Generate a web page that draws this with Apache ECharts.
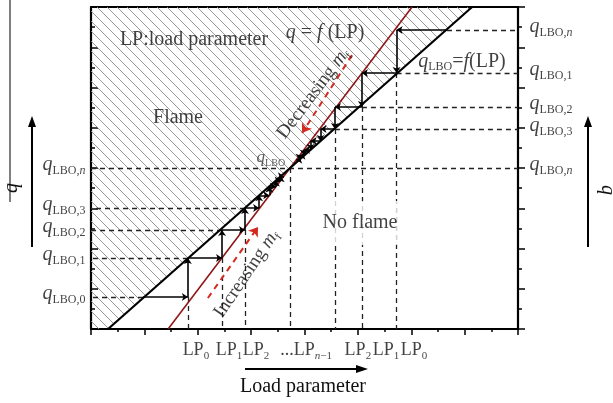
<!DOCTYPE html>
<html>
<head>
<meta charset="utf-8">
<script src="https://cdn.jsdelivr.net/npm/echarts@6/dist/echarts.min.js"></script>
<style>
  html, body { margin: 0; padding: 0; background: #fff; }
  #chart { width: 613px; height: 403px; }
</style>
</head>
<body>
<div id="chart"></div>
<script>
// ---- data (schematic units, both axes 0..16) ----
const xMax = 16, yMax = 16;

// q_LBO = f(LP) (black) and q = f(LP) (red)
const lboLine = [[0.64, 0], [14.28, 16]];
const flameLine = [[2.89, 0], [12.03, 16]];
const crossing = [7.46, 8.0];

// staircase for increasing m_f (below the crossing)
const upQ = [1.59, 3.53, 4.92, 6.01, 6.64, 7.08, 7.38, 7.59];
const upLP = [1.95, 3.63, 4.91, 5.77, 6.30, 6.68, 6.93, 7.11, 7.23];
// staircase for decreasing m_f (above the crossing)
const downQ = [14.86, 12.72, 11.03, 9.94, 9.34, 8.90, 8.61, 8.41];
const downLP = [13.34, 11.45, 10.15, 9.14, 8.60, 8.23, 7.98, 7.81, 7.69];
const guideSteps = 4; // first steps that get dashed guide lines

// red dashed direction arrows
const incArrow = [[4.38, 1.54], [6.26, 5.07]];
const decArrow = [[9.78, 13.61], [7.91, 9.74]];

// tick labels
const leftQNames = ['n', '3', '2', '1', '0'];
const leftQValues = [crossing[1], upQ[3], upQ[2], upQ[1], upQ[0]];
const rightQNames = ['n', '1', '2', '3', 'n'];
const rightQValues = [downQ[0], downQ[1], downQ[2], downQ[3], crossing[1]];
const lpNames = ['0', '1', '2', 'n\u22121', '2', '1', '0'];
const lpPositions = [3.93, 5.17, 6.18, 8.06, 10.0, 11.05, 12.1];

// ---- styles ----
const serif = '"Liberation Serif", "DejaVu Serif", serif';
const ink = '#111';
const rich = {
  q:   { fontFamily: serif, fontStyle: 'italic', fontSize: 20, color: ink },
  s:   { fontFamily: serif, fontSize: 12, color: ink, padding: [12, 0, 0, 0] },
  si:  { fontFamily: serif, fontStyle: 'italic', fontSize: 12, color: ink, padding: [12, 0, 0, 0] },
  t:   { fontFamily: serif, fontSize: 20, color: ink },
  ti:  { fontFamily: serif, fontStyle: 'italic', fontSize: 20, color: ink },
  t2:  { fontFamily: serif, fontSize: 19, color: ink },
  ti2: { fontFamily: serif, fontStyle: 'italic', fontSize: 19, color: ink },
  lp:  { fontFamily: serif, fontSize: 18, color: ink },
  ls:  { fontFamily: serif, fontSize: 11, color: ink, padding: [12, 0, 0, 0] },
  lsi: { fontFamily: serif, fontStyle: 'italic', fontSize: 11, color: ink, padding: [12, 0, 0, 0] },
  qs:  { fontFamily: serif, fontStyle: 'italic', fontSize: 17, color: '#333' },
  ss:  { fontFamily: serif, fontSize: 10, color: '#333', padding: [10, 0, 0, 0] }
};

function subText(name, roman, italic) {
  if (name.charAt(0) === 'n') {
    let rest = name.slice(1);
    return '{' + italic + '|n}' + (rest ? '{' + roman + '|' + rest + '}' : '');
  }
  return '{' + roman + '|' + name + '}';
}
function qLabel(name) {
  return '{q|q}{s|LBO,}' + subText(name, 's', 'si');
}
function lpLabel(name) {
  let pre = name.charAt(0) === 'n' ? '{lp|...}' : '';
  return pre + '{lp|LP}' + subText(name, 'ls', 'lsi');
}

// hatch pattern for the flame region
const hatch = document.createElement('canvas');
hatch.width = 10; hatch.height = 10;
const hc = hatch.getContext('2d');
hc.strokeStyle = '#8c8c8c';
hc.lineWidth = 0.9;
hc.beginPath();
hc.moveTo(-1, -1); hc.lineTo(11, 11);
hc.moveTo(-1, 9); hc.lineTo(1, 11);
hc.moveTo(9, -1); hc.lineTo(11, 1);
hc.stroke();

const flamePolygon = [[0, 0], [lboLine[0][0], 0], [lboLine[1][0], yMax], [0, yMax]];

// ---- build segments ----
let dashes = [];
let steps = [];
function addStairs(qs, lps, toRight) {
  for (let i = 0; i < qs.length; i++) {
    steps.push({ coords: [[lps[i], qs[i]], [lps[i + 1], qs[i]]] });
    if (i + 1 < qs.length) steps.push({ coords: [[lps[i + 1], qs[i]], [lps[i + 1], qs[i + 1]]] });
  }
  for (let i = 0; i < guideSteps; i++) {
    dashes.push({ coords: [[lps[i], qs[i]], [toRight ? xMax : 0, qs[i]]] });
  }
}
addStairs(upQ, upLP, false);
addStairs(downQ, downLP, true);
for (let i = 1; i < guideSteps; i++) {
  dashes.push({ coords: [[upLP[i], upQ[i - 1]], [upLP[i], 0]] });
  dashes.push({ coords: [[downLP[i], downQ[i]], [downLP[i], 0]] });
}
dashes.push({ coords: [[0, crossing[1]], [xMax, crossing[1]]] });
dashes.push({ coords: [crossing, [crossing[0], 0]] });

// ---- annotation layout ----
const notes = [
  { at: [3.86, 14.36], text: '{t|LP:load parameter}' },
  { at: [8.77, 14.72], text: '{ti|q}{t| = }{ti|f}{t| (LP)}' },
  { at: [3.26, 10.48], text: '{t|Flame}' },
  { at: [10.08, 5.27], text: '{t|No flame}', bg: true },
  { at: [13.9, 13.3], text: '{q|q}{s|LBO}{t|=}{ti|f}{t|(LP)}' },
  { at: [6.74, 8.5], text: '{qs|q}{ss|LBO}' },
  { at: [8.33, 11.7], text: '{t2|Decreasing }{ti2|m}{s|f}', rotate: 53 },
  { at: [5.83, 2.75], text: '{t2|Increasing }{ti2|m}{s|f}', rotate: 56 }
];

const labelData = [];
leftQValues.forEach(function (v, i) {
  labelData.push({ value: [0, v], label: { formatter: qLabel(leftQNames[i]), position: 'left', distance: 5, offset: [0, -3] } });
});
rightQValues.forEach(function (v, i) {
  labelData.push({ value: [xMax, v], label: { formatter: qLabel(rightQNames[i]), position: 'right', distance: 11, offset: [0, -3] } });
});
lpPositions.forEach(function (v, i) {
  labelData.push({ value: [v, 0], label: { formatter: lpLabel(lpNames[i]), position: 'bottom', distance: 9 } });
});
notes.forEach(function (n) {
  labelData.push({
    value: n.at,
    label: {
      formatter: n.text, position: 'inside', rotate: n.rotate || 0,
      backgroundColor: n.bg ? '#fff' : 'transparent', padding: n.bg ? [12, 0] : 0
    }
  });
});

const tickStyle = { color: '#000', width: 1.5 };
const axisLine = { show: true, onZero: false, lineStyle: { color: '#000', width: 2.2 } };

const chart = echarts.init(document.getElementById('chart'));
chart.setOption({
  animation: false,
  backgroundColor: '#fff',
  grid: { left: 91, right: 95, top: 7, bottom: 74 },
  xAxis: [
    {
      type: 'value', min: 0, max: xMax, interval: 2, position: 'bottom',
      axisLine: axisLine,
      axisTick: { show: true, inside: false, length: 6, lineStyle: tickStyle },
      minorTick: { show: true, splitNumber: 2, length: 3, lineStyle: tickStyle },
      axisLabel: { show: false }, splitLine: { show: false }
    },
    {
      type: 'value', min: 0, max: xMax, position: 'top',
      axisLine: axisLine, axisTick: { show: false },
      axisLabel: { show: false }, splitLine: { show: false }
    }
  ],
  yAxis: [
    {
      type: 'value', min: 0, max: yMax, interval: 2, position: 'left',
      axisLine: axisLine,
      axisTick: { show: true, inside: true, length: 7, lineStyle: tickStyle },
      minorTick: { show: true, splitNumber: 2, length: 4, lineStyle: tickStyle },
      axisLabel: { show: false }, splitLine: { show: false }
    },
    {
      type: 'value', min: 0, max: yMax, interval: 2, position: 'right',
      axisLine: axisLine,
      axisTick: { show: true, inside: false, length: 7, lineStyle: tickStyle },
      minorTick: { show: true, splitNumber: 2, length: 4, lineStyle: tickStyle },
      axisLabel: { show: false }, splitLine: { show: false }
    }
  ],
  series: [
    {
      type: 'custom', silent: true, z: 1,
      data: [[0, 0]],
      renderItem: function (params, api) {
        return {
          type: 'polygon',
          shape: { points: flamePolygon.map(function (p) { return api.coord(p); }) },
          style: { fill: { image: hatch, repeat: 'repeat' }, stroke: null }
        };
      }
    },
    {
      type: 'lines', coordinateSystem: 'cartesian2d', z: 2, silent: true,
      symbol: 'none',
      lineStyle: { color: '#222', width: 1.3, type: [5, 4], opacity: 1 },
      data: dashes
    },
    {
      type: 'line', z: 3, silent: true, showSymbol: false, symbol: 'none',
      lineStyle: { color: '#8e1616', width: 1.6 },
      data: flameLine
    },
    {
      type: 'line', z: 4, silent: true, showSymbol: false, symbol: 'none',
      lineStyle: { color: '#000', width: 2.2 },
      data: lboLine
    },
    {
      type: 'lines', coordinateSystem: 'cartesian2d', z: 5, silent: true,
      symbol: ['none', 'arrow'], symbolSize: 6,
      lineStyle: { color: '#000', width: 1.6, opacity: 1 },
      data: steps
    },
    {
      type: 'lines', coordinateSystem: 'cartesian2d', z: 5, silent: true,
      symbol: ['none', 'arrow'], symbolSize: 9,
      lineStyle: { color: '#d42a22', width: 2, type: [6, 5], opacity: 1 },
      data: [{ coords: incArrow }, { coords: decArrow }]
    },
    {
      type: 'scatter', z: 6, silent: true, symbolSize: 1,
      itemStyle: { color: 'rgba(0,0,0,0)' },
      label: { show: true, rich: rich, color: ink },
      data: labelData
    }
  ],
  graphic: [
    { type: 'line', shape: { x1: 10, y1: 0, x2: 10, y2: 202 }, style: { stroke: '#000', lineWidth: 1 } },
    { type: 'line', shape: { x1: 32, y1: 247, x2: 32, y2: 126 }, style: { stroke: '#000', lineWidth: 2 } },
    { type: 'polygon', shape: { points: [[32, 116], [28, 127], [36, 127]] }, style: { fill: '#000' } },
    { type: 'text', x: 12, y: 188, rotation: Math.PI / 2,
      style: { text: 'q', font: 'italic 20px ' + serif, fill: ink, textAlign: 'center', textVerticalAlign: 'middle' } },
    { type: 'line', shape: { x1: 588, y1: 247, x2: 588, y2: 126 }, style: { stroke: '#000', lineWidth: 2 } },
    { type: 'polygon', shape: { points: [[588, 116], [584, 127], [592, 127]] }, style: { fill: '#000' } },
    { type: 'text', x: 607, y: 190, rotation: -Math.PI / 2,
      style: { text: 'q', font: 'italic 20px ' + serif, fill: ink, textAlign: 'center', textVerticalAlign: 'middle' } },
    { type: 'line', shape: { x1: 245, y1: 369, x2: 358, y2: 369 }, style: { stroke: '#000', lineWidth: 2 } },
    { type: 'polygon', shape: { points: [[368, 369], [356, 365], [356, 373]] }, style: { fill: '#000' } },
    { type: 'text', x: 303, y: 387,
      style: { text: 'Load parameter', font: '20px ' + serif, fill: ink, textAlign: 'center', textVerticalAlign: 'middle' } }
  ]
});
</script>
</body>
</html>
